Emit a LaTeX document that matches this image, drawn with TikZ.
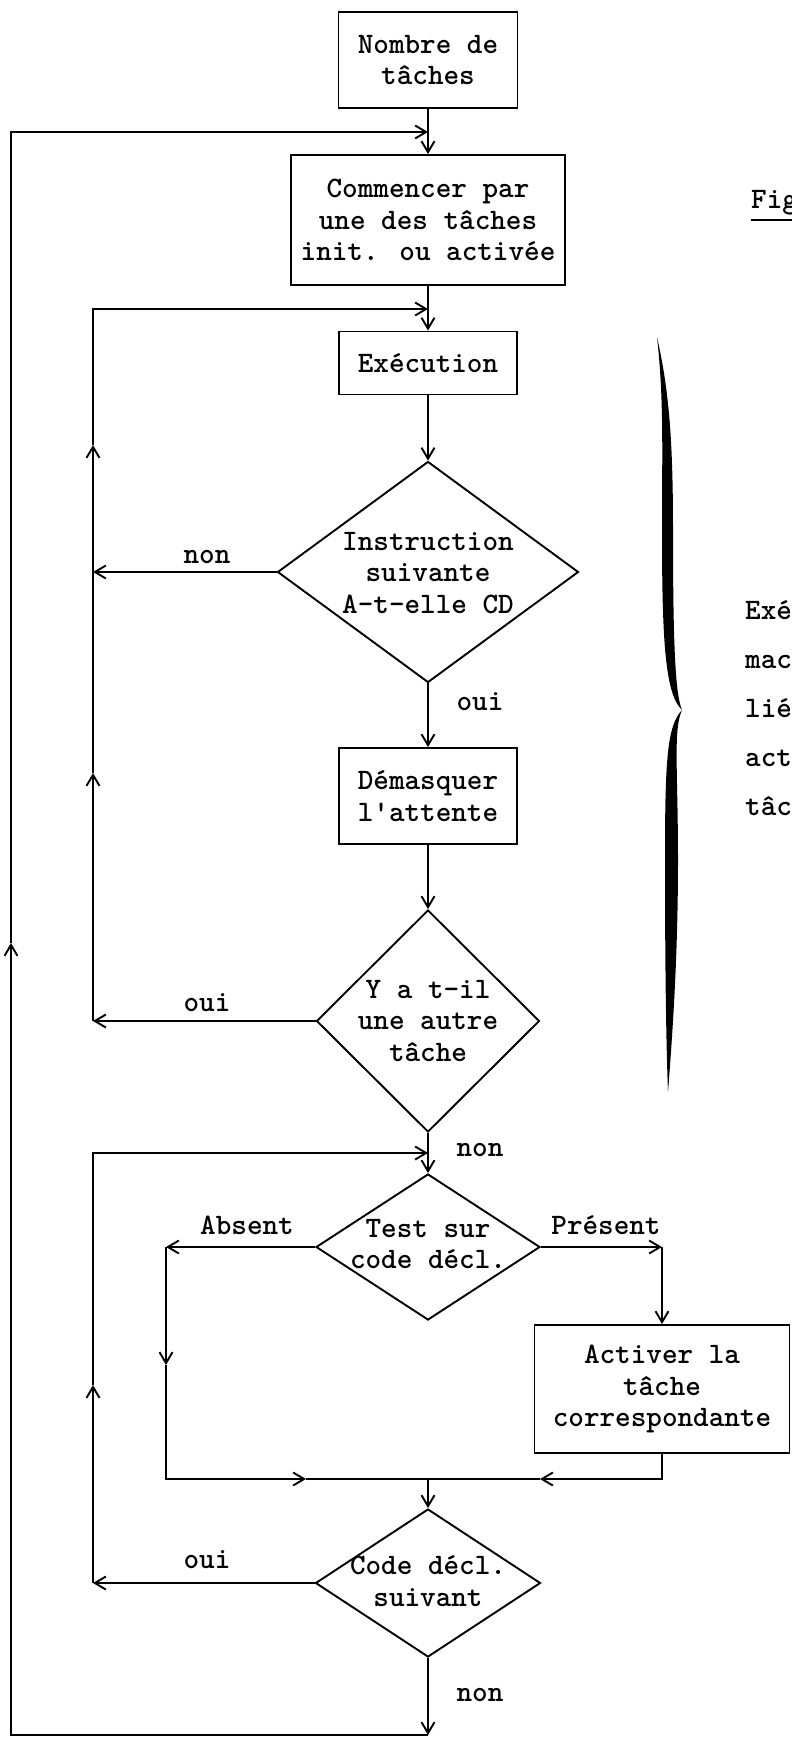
\documentclass[tikz,border=0pt]{standalone}
\usetikzlibrary{arrows.meta,shapes.geometric}
\newcommand\diagfont{\ttfamily\bfseries\fontsize{29.7}{31.5}\selectfont}
\begin{document}
\begin{tikzpicture}[x=1pt,y=-1pt,
  ln/.style={line width=1.9pt},
  arr/.style={line width=1.9pt,-{Straight Barb[length=11pt,width=13pt]}},
  box/.style={draw,line width=1.9pt,rectangle,inner sep=0pt,align=center,font=\diagfont},
  dia/.style={draw,line width=1.9pt,diamond,inner sep=0pt},
  txt/.style={inner sep=0pt,align=center,font=\diagfont}]
\fill[white] (0,0) rectangle (792,1737);
\useasboundingbox (0,0) rectangle (792,1737);

% boxes and decisions
\node[box,minimum width=179pt,minimum height=96pt] (n1) at (428,60) {Nombre de\\tâches};
\node[box,minimum width=274pt,minimum height=130pt] (n2) at (428,220) {Commencer par\\une des tâches\\init. ou activée};
\node[box,minimum width=178pt,minimum height=63pt] (n3) at (428,363) {Exécution};
\node[dia,minimum width=301pt,minimum height=221pt] (d1) at (428,572) {};
\node[txt] (t1) at (428,573) {Instruction\\suivante\\A-t-elle CD};
\node[box,minimum width=178pt,minimum height=96pt] (n4) at (428,796) {Démasquer\\l'attente};
\node[dia,minimum width=223pt,minimum height=222pt] (d2) at (428,1021) {};
\node[txt] (t2) at (428,1021) {Y a t-il\\une autre\\tâche};
\node[dia,minimum width=224pt,minimum height=146pt] (d3) at (428,1247) {};
\node[txt] (t3) at (428,1244) {Test sur\\code décl.};
\node[box,minimum width=255pt,minimum height=128pt] (n5) at (662,1389) {Activer la\\tâche\\correspondante};
\node[dia,minimum width=225pt,minimum height=148pt] (d4) at (428,1583) {};
\node[txt] (t4) at (428,1581) {Code décl.\\suivant};

% junction points
\coordinate (ct) at (428,132);
\coordinate (cm1) at (428,309);
\coordinate (cm3) at (428,1153);
\coordinate (cmg) at (428,1479);
\coordinate (cb) at (428,1735);
\coordinate (ob) at (11,1735);
\coordinate (oa) at (11,943);
\coordinate (ot) at (11,132);
\coordinate (l1a) at (93,572);
\coordinate (l1b) at (93,1021);
\coordinate (l1u1) at (93,773);
\coordinate (l1u2) at (93,445);
\coordinate (l1t) at (93,309);
\coordinate (l3a) at (93,1583);
\coordinate (l3u) at (93,1385);
\coordinate (l3t) at (93,1153);
\coordinate (ab) at (166,1247);
\coordinate (abd) at (166,1365);
\coordinate (abb) at (166,1479);
\coordinate (abr) at (306,1479);
\coordinate (pr) at (662,1247);
\coordinate (prb) at (662,1479);
\coordinate (prl) at (540,1479);

% main flow
\draw[arr] (n1.south) -- (n2.north);
\draw[arr] (n2.south) -- (n3.north);
\draw[arr] (n3.south) -- (d1.north);
\draw[arr] (d1.south) -- (n4.north);
\draw[arr] (n4.south) -- (d2.north);
\draw[arr] (d2.south) -- (d3.north);
\draw[arr] (d3.west) -- (ab);
\draw[arr] (d3.east) -- (pr);
\draw[arr] (pr) -- (n5.north);
\draw[arr] (ab) -- (abd);
\draw[arr] (abd) -- (abb) -- (abr);
\draw[ln] (abr) -- (cmg);
\draw[arr] (n5.south) -- (prb) -- (prl);
\draw[ln] (prl) -- (cmg);
\draw[arr] (cmg) -- (d4.north);
\draw[arr] (d4.south) -- (cb);

% outer loop
\draw[arr] (cb) -- (ob) -- (oa);
\draw[arr] (oa) -- (ot) -- (ct);

% inner loop 1
\draw[arr] (d1.west) -- (l1a);
\draw[arr] (d2.west) -- (l1b);
\draw[arr] (l1b) -- (l1u1);
\draw[arr] (l1u1) -- (l1u2);
\draw[arr] (l1u2) -- (l1t) -- (cm1);

% inner loop 2
\draw[arr] (d4.west) -- (l3a);
\draw[arr] (l3a) -- (l3u);
\draw[arr] (l3u) -- (l3t) -- (cm3);

% labels
\node[txt] (lnon1) at (207,557) {non};
\node[txt] (loui1) at (480,702) {oui};
\node[txt] (loui2) at (207,1003) {oui};
\node[txt] (lnon2) at (480,1150) {non};
\node[txt] (labs) at (247,1225) {Absent};
\node[txt] (lpre) at (606,1225) {Présent};
\node[txt] (loui3) at (207,1560) {oui};
\node[txt] (lnon3) at (480,1695) {non};

% brace
\fill (657,337) .. controls (664,400) and (662,450) .. (662,530)
  .. controls (662,640) and (665,694) .. (682,710)
  .. controls (667,726) and (665,760) .. (665,860)
  .. controls (665,960) and (666,1040) .. (668,1092)
  .. controls (672,1040) and (678,960) .. (678,860)
  .. controls (678,770) and (673,730) .. (682,710)
  .. controls (675,694) and (673,640) .. (673,530)
  .. controls (673,440) and (669,390) .. (657,337) -- cycle;

% right-hand text (cut by the page edge)
\node[txt,anchor=base west] (fig) at (751,208) {Fig};
\draw[ln] (751,220) -- (792,220);
\node[txt,anchor=base west] (r1) at (745,619) {Exé};
\node[txt,anchor=base west] (r2) at (745,668) {mac};
\node[txt,anchor=base west] (r3) at (745,717) {lié};
\node[txt,anchor=base west] (r4) at (745,766) {act};
\node[txt,anchor=base west] (r5) at (745,815) {tâc};
\end{tikzpicture}
\end{document}
